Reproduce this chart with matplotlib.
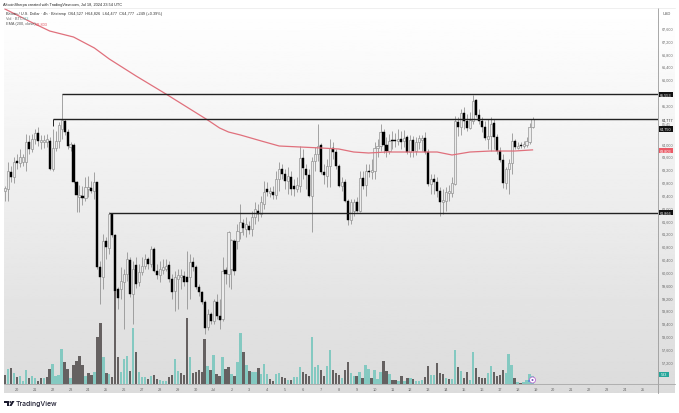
import numpy as np
import matplotlib
matplotlib.use("Agg")
import matplotlib.pyplot as plt
from matplotlib.patches import Circle, Polygon, Rectangle

# 4h candles, BTC/USD
opens = [62520, 62590, 63110, 62960, 63460, 63400, 63430, 63430, 64050, 63830,
         64140, 64330, 64050, 64050, 64050, 64080, 63210, 63860, 64080, 64450,
         64700, 64360, 63890, 63960, 62800, 62340, 62370, 62300, 62590, 62620,
         62520, 62800, 60160, 59850, 60960, 60740, 61810, 61150, 59470, 59470,
         59690, 59940, 60370, 59310, 60220, 59690, 60000, 60190, 60400, 60250,
         60720, 60030, 59910, 60060, 60090, 60220, 59780, 59410, 59780, 59850,
         59880, 59850, 59850, 60310, 60160, 59530, 59380, 59060, 58290, 58690,
         58470, 59060, 58630, 58530, 60060, 59940, 60090, 60960, 60960, 61240,
         61520, 61340, 61430, 61340, 61710, 61900, 61810, 62120, 62590, 62460,
         62490, 62400, 62900, 63210, 63050, 62830, 62960, 62680, 62590, 62680,
         63550, 63210, 63020, 62370, 63460, 63680, 63960, 63110, 62990, 63300,
         63860, 63740, 63300, 62680, 62800, 62210, 61620, 61900, 62180, 61900,
         62930, 62710, 63150, 63110, 63150, 63860, 63920, 64360, 63960, 63770,
         64110, 64110, 64080, 64140, 64080, 64200, 63740, 64110, 63770, 64050,
         64110, 64170, 63740, 62740, 62900, 62800, 62520, 62180, 62210, 62460,
         62460, 62740, 64670, 64520, 64950, 64700, 64480, 64700, 65360, 64890,
         64700, 64520, 64140, 64240, 64640, 64200, 63770, 63490, 62770, 63210,
         63400, 64080, 63860, 63960, 63920, 63960, 64050, 64527]
highs = [62680, 63430, 63300, 63580, 63680, 63830, 63680, 64300, 64270, 64300,
         64450, 64520, 64270, 64270, 64300, 64200, 64450, 64390, 64670, 65540,
         64770, 64450, 64050, 64020, 62830, 62710, 62680, 62960, 62990, 62830,
         63110, 62800, 60340, 61180, 61090, 61870, 61840, 61180, 59530, 60160,
         60090, 60620, 60470, 60340, 60470, 60250, 60470, 60560, 60470, 60810,
         60780, 60250, 60340, 60400, 60400, 60340, 59940, 60030, 60090, 60090,
         60030, 60650, 60560, 60470, 60220, 59620, 59410, 59130, 58850, 58750,
         59160, 59310, 59160, 60470, 60160, 61280, 61030, 61030, 61490, 62120,
         61650, 61710, 61590, 61900, 62180, 62120, 62370, 62830, 62800, 62650,
         62680, 63150, 63430, 63360, 63210, 63270, 63150, 62900, 62960, 63920,
         63830, 63360, 63210, 63580, 63890, 64610, 64020, 63360, 63520, 64140,
         64050, 63830, 63360, 62960, 62900, 62270, 62270, 62270, 62340, 63150,
         63150, 63360, 63360, 63520, 64050, 64140, 64610, 64450, 64200, 64300,
         64390, 64330, 64450, 64390, 64420, 64270, 64270, 64240, 64200, 64270,
         64270, 64360, 63830, 63050, 63050, 62960, 62650, 62590, 62650, 62710,
         62960, 64860, 64830, 65080, 65140, 64920, 64980, 65510, 65390, 65080,
         64830, 64700, 64770, 64830, 64770, 64300, 63890, 63680, 63270, 63520,
         64330, 64140, 64050, 64050, 64080, 64200, 64640, 64826]
lows = [62210, 62210, 62800, 62770, 63210, 63270, 63300, 63150, 63680, 63740,
        63990, 63920, 63830, 63860, 63890, 63180, 63150, 63770, 63860, 64140,
        64270, 63830, 63770, 62770, 61870, 61870, 62090, 62210, 62340, 62460,
        62270, 60090, 59000, 59470, 60400, 60560, 61090, 59310, 58850, 59160,
        58220, 59720, 59220, 58380, 59500, 59560, 59910, 60090, 60090, 60160,
        60000, 59780, 59690, 59940, 60030, 59690, 59160, 58780, 58850, 59470,
        59560, 58850, 59160, 60030, 59470, 59250, 59000, 58070, 58190, 58380,
        58380, 58530, 58220, 58470, 59620, 59530, 59470, 59910, 60720, 61030,
        61150, 61090, 61180, 61120, 61490, 61590, 61710, 61960, 62370, 62340,
        62270, 62270, 62520, 62900, 62590, 62430, 62400, 62370, 62490, 62490,
        62900, 62590, 62340, 61240, 63150, 63460, 63050, 62740, 62650, 62650,
        63520, 63210, 62650, 62520, 62180, 61460, 61490, 61740, 61870, 61870,
        62590, 62370, 62960, 62900, 62900, 63580, 63770, 63710, 63580, 63680,
        63830, 63890, 63960, 63830, 63890, 63680, 63580, 63580, 63640, 63830,
        63770, 63680, 62680, 62430, 62430, 62340, 61740, 61810, 61900, 62210,
        62340, 62710, 64240, 64270, 64450, 64390, 64450, 64610, 64830, 64610,
        64360, 64110, 63830, 63770, 63830, 63680, 63430, 62620, 62590, 62430,
        63050, 63830, 63830, 63860, 63860, 63890, 63990, 64477]
closes = [62620, 63150, 62960, 63430, 63400, 63580, 63580, 64050, 63830, 64140,
          64330, 64080, 64110, 64110, 64140, 63210, 63860, 64080, 64580, 64730,
          64360, 63920, 63990, 62800, 62400, 62400, 62300, 62650, 62650, 62520,
          62800, 60160, 59850, 60960, 60780, 61810, 61150, 59410, 59190, 59720,
          59940, 60400, 59310, 60090, 59620, 60000, 60190, 60400, 60250, 60720,
          60030, 59910, 60090, 60160, 60190, 59780, 59380, 59850, 59910, 59910,
          59690, 59690, 60310, 60160, 59530, 59380, 59060, 58260, 58690, 58470,
          59100, 58630, 58500, 60030, 59940, 61240, 61000, 60030, 61280, 61550,
          61370, 61490, 61310, 61710, 61960, 61810, 62180, 62490, 62490, 62520,
          62400, 62900, 63210, 63050, 62830, 62990, 62590, 62590, 62710, 63550,
          63240, 63020, 62370, 63460, 63680, 63920, 63110, 63020, 63300, 63860,
          63740, 63300, 62680, 62800, 62210, 61620, 62180, 62180, 61900, 62930,
          62680, 63150, 63110, 63180, 63860, 63920, 64360, 63960, 63770, 64080,
          64080, 64080, 64140, 64050, 64170, 63740, 64110, 63770, 64050, 64170,
          64170, 63740, 62740, 62900, 62800, 62520, 62180, 62240, 62490, 62520,
          62770, 64700, 64520, 64950, 64700, 64480, 64730, 65330, 64890, 64700,
          64520, 64170, 64240, 64610, 64200, 63770, 63490, 62770, 63210, 63400,
          64080, 63890, 63920, 63920, 63990, 64080, 64520, 64777]

# volume in hundreds, t = rising bar, d = falling bar
volumes = [9, 15, 16, 11, 7, 8, 3, 14, 6, 8,
           6, 3, 6, 6, 7, 15, 20, 8, 9, 35,
           22, 15, 6, 19, 23, 28, 19, 8, 11, 9,
           12, 47, 61, 27, 11, 10, 7, 93, 27, 12,
           25, 28, 13, 56, 32, 12, 7, 7, 5, 8,
           9, 5, 4, 3, 3, 7, 9, 25, 13, 11,
           9, 66, 27, 11, 12, 14, 12, 45, 18, 14,
           29, 10, 8, 27, 15, 17, 10, 8, 22, 51,
           32, 19, 13, 12, 12, 16, 10, 20, 10, 5,
           3, 10, 11, 7, 6, 4, 4, 7, 7, 17,
           12, 10, 8, 47, 17, 19, 14, 8, 18, 34,
           14, 11, 9, 6, 14, 22, 11, 8, 8, 12,
           6, 19, 15, 6, 14, 5, 12, 23, 13, 10,
           4, 4, 3, 8, 3, 6, 6, 5, 3, 3,
           4, 7, 18, 9, 9, 21, 11, 10, 6, 5,
           5, 34, 17, 13, 6, 12, 4, 32, 16, 7,
           6, 6, 11, 18, 12, 8, 9, 14, 11, 30,
           19, 6, 2, 1, 2, 4, 10, 8]
vol_dir = ("dtdtdtttdt" "tddtddtttt" "ddtddddtdd" "tddtdtdddt" "ttdtdtttdt"
           "ddtttddttd" "ddtdddddtd" "tddtddtdtt" "dtdttdtttd" "dttddtdttt"
           "dddtttddtt" "dddtddttdt" "dttdtttddt" "ddtdtdtdtt" "tddttdddtd"
           "ttdtddttdd" "ddttddddtt" "tdtdtttt")

ema_idx = [0, 8, 15, 23, 30, 35, 44, 54, 68, 72, 75, 79, 86, 92, 99, 106, 112, 117,
           122, 128, 135, 142, 145, 150, 156, 163, 171, 177]
ema_vals = [68192, 67818, 67506, 67319, 66977, 66634, 66104, 65544, 64734, 64485, 64360,
            64267, 64080, 63924, 63893, 63862, 63831, 63737, 63706, 63737, 63737,
            63737, 63737, 63644, 63737, 63768, 63768, 63803]

day_labels = ["20", "21", "22", "23", "24", "25", "26", "27", "28", "29", "30", "Jul"] + \
    [str(d) for d in range(2, 26)]
price_ticks = [57200, 57600, 58000, 58400, 58800, 59200, 59600, 60000, 60400,
               60800, 61200, 61600, 62000, 62400, 62800, 63200, 63600, 64000, 65200,
               66000, 66400, 66800, 67200, 67600]

W, H = 679, 414
fig = plt.figure(figsize=(W / 100, H / 100), dpi=100)
fig.patch.set_facecolor("white")
plt.rcParams["font.family"] = ["Liberation Sans", "DejaVu Sans"]


def box(x0, y0, x1, y1):
    return [x0 / W, 1 - y1 / H, (x1 - x0) / W, (y1 - y0) / H]


# grey gradient behind the chart
bg = fig.add_axes(box(4, 9, 675, 394), zorder=0)
grad = np.linspace(1.0, 0.86, 256).reshape(-1, 1)
bg.imshow(grad, aspect="auto", cmap="gray", vmin=0, vmax=1)
bg.axis("off")

ax = fig.add_axes(box(4, 9, 658, 385), zorder=1)
ax.patch.set_alpha(0)
ax.set_xlim(-0.33, 219.1)
ax.set_ylim(56510, 68223)

vol = ax.twinx()
vol.set_ylim(0, 376)
vol.axis("off")
vol.set_zorder(ax.get_zorder() + 1)

x = np.arange(len(closes))
opens, highs, lows, closes = map(np.array, (opens, highs, lows, closes))
up = closes >= opens
vol_cols = ["#7fc8c0" if c == "t" else "#5f5a5a" for c in vol_dir]
vol.bar(x, volumes, width=0.8, color=vol_cols, alpha=0.95, linewidth=0)

ax.vlines(x, lows, highs, color="#8c8c8c", linewidth=0.55, zorder=3)
ax.bar(x[up], (closes - opens)[up], bottom=opens[up], width=0.72, color="#ececec",
       edgecolor="#8c8c8c", linewidth=0.45, zorder=4)
ax.bar(x[~up], (opens - closes)[~up], bottom=closes[~up], width=0.72, color="black",
       edgecolor="black", linewidth=0.3, zorder=4)
ax.plot(ema_idx, ema_vals, color="#e0707c", linewidth=0.9, zorder=5)

# drawn levels
ax.hlines(65553, 19, 219.1, color="#222222", linewidth=1.0, zorder=6)
ax.hlines(64777, 16, 219.1, color="#222222", linewidth=1.0, zorder=6)
ax.vlines(16, 64540, 64777, color="#222222", linewidth=0.7, zorder=6)
ax.hlines(61845, 35, 219.1, color="#222222", linewidth=1.0, zorder=6)

ax.set_xticks(np.arange(len(day_labels)) * 6 + 4)
ax.set_xticklabels(day_labels, fontsize=2.8, color="#666666")
ax.yaxis.tick_right()
ax.set_yticks(price_ticks)
ax.set_yticklabels([f"{p:,}" for p in price_ticks], fontsize=2.7, color="#666666")
ax.tick_params(axis="both", length=0)
ax.tick_params(axis="x", pad=2.2)
ax.tick_params(axis="y", pad=2.8)
for side in ["top", "left"]:
    ax.spines[side].set_visible(False)
ax.spines["right"].set_color("#9a9a9a")
ax.spines["right"].set_linewidth(0.6)
ax.spines["bottom"].set_color("#a8a8a8")
ax.spines["bottom"].set_linewidth(0.6)

# overlay in pixels for header, price tags and logo
top = fig.add_axes([0, 0, 1, 1], zorder=5)
top.set_xlim(0, W)
top.set_ylim(H, 0)
top.axis("off")
top.patch.set_alpha(0)

top.plot([4, 675], [9, 9], color="#e4e4e4", linewidth=0.4)
top.plot([658, 658], [385, 394], color="#9a9a9a", linewidth=0.6)
top.plot([658, 675], [385, 385], color="#a8a8a8", linewidth=0.6)

top.text(3, 5, "AltcoinSherpa created with TradingView.com, Jul 18, 2024 23:54 UTC",
         fontsize=2.8, color="#222222", va="center")
top.text(6, 13.5, "Bitcoin / U.S. Dollar · 4h · Bitstamp  O64,527  H64,826  L64,477  C64,777  +249 (+0.39%)",
         fontsize=2.75, color="#333333", va="center")
top.text(6, 19, "Vol · BTC", fontsize=2.75, color="#666666", va="center")
top.text(23, 19, "533", fontsize=2.75, color="#5fb5ac", va="center")
top.text(6, 24.5, "EMA (200, close)", fontsize=2.75, color="#555555", va="center")
top.text(36, 24.5, "63,803", fontsize=2.75, color="#e0505c", va="center")
top.text(666.5, 14, "USD", fontsize=2.9, color="#555555", va="center", ha="center")

tags = [(95.8, "65,553", "#111111"), (130, "64,750", "#111111"),
        (151.5, "63,803", "#ea5a66"), (213.5, "61,866", "#111111"),
        (375.5, "533", "#26a69a")]
for y, label, col in tags:
    right = 669 if label == "533" else 673
    top.add_patch(Rectangle((659, y - 2.6), right - 659, 5.2, color=col, linewidth=0, zorder=3))
    top.text((659 + right) / 2, y, label, fontsize=2.7, color="white", va="center", ha="center", zorder=4)
top.text(661.5, 120.3, "64,777", fontsize=2.7, color="#222222", va="center")
top.text(661.5, 125, "05:41", fontsize=2.6, color="#666666", va="center")

# marker on the volume bars
top.add_patch(Circle((532.5, 381), 3.0, facecolor="white", edgecolor="#b66ad0", linewidth=0.6, zorder=4))
top.add_patch(Circle((532.5, 381), 1.0, facecolor="#7a4fc0", linewidth=0, zorder=5))
top.add_patch(Circle((529, 382), 0.9, facecolor="#4a7fe0", linewidth=0, zorder=5))

# logo
logo = "#1a1a2e"
top.add_patch(Polygon([(4, 402), (9, 402), (9, 407), (7, 407), (7, 404), (4, 404)], color=logo, linewidth=0))
top.add_patch(Circle((10.3, 403), 0.9, color=logo, linewidth=0))
top.add_patch(Polygon([(12, 402), (14.5, 402), (11.5, 407), (9.3, 407)], color=logo, linewidth=0))
top.text(16, 404.3, "TradingView", fontsize=4.9, fontweight="medium", color=logo, va="center",
         family="Inter")

fig.savefig("out.png", dpi=100, facecolor="white")
